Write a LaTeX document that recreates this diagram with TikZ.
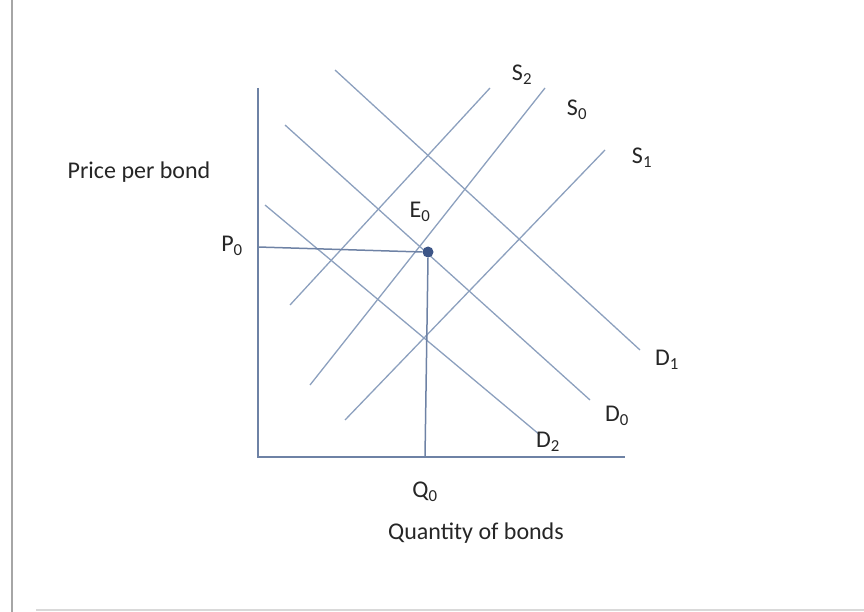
\documentclass[tikz,border=0pt]{standalone}
\usepackage{fontspec}
\setmainfont{Carlito}
\definecolor{lc}{RGB}{140,160,190}
\definecolor{ac}{RGB}{110,130,165}
\definecolor{pc}{RGB}{60,85,135}
\begin{document}
\begin{tikzpicture}[x=1pt,y=-1pt,
  ln/.style={draw=lc, line width=1.3pt},
  ax/.style={draw=ac, line width=1.5pt},
  lbl/.style={font=\fontsize{24}{26}\selectfont, text=black!85, inner sep=1pt}]
\useasboundingbox (0,0) rectangle (864,612);
\draw[gray!70, line width=1.2pt] (12,0) -- (12,612);
\draw[gray!30, line width=2pt] (36,610) -- (864,610);
% axes
\coordinate (yt) at (258,88);
\coordinate (o) at (258,457);
\coordinate (xr) at (625,457);
\draw[ax] (yt) -- (o) -- (xr);
% supply
\coordinate (s2a) at (290,305); \coordinate (s2b) at (490,88);
\coordinate (s0a) at (310,385); \coordinate (s0b) at (545,88);
\coordinate (s1a) at (345,420); \coordinate (s1b) at (605,150);
\draw[ln] (s2a) -- (s2b);
\draw[ln] (s0a) -- (s0b);
\draw[ln] (s1a) -- (s1b);
% demand
\coordinate (d1a) at (335,70); \coordinate (d1b) at (640,350);
\coordinate (d0a) at (285,125); \coordinate (d0b) at (590,400);
\coordinate (d2a) at (265,205); \coordinate (d2b) at (540,435);
\draw[ln] (d1a) -- (d1b);
\draw[ln] (d0a) -- (d0b);
\draw[ln] (d2a) -- (d2b);
% equilibrium
\node[circle, fill=pc, inner sep=0pt, minimum size=11pt] (e) at (428,252) {};
\coordinate (p) at (258,247);
\coordinate (q) at (425,457);
\draw[ax] (p) -- (e.west);
\draw[ax] (e.south) -- (q);
% labels
\node[lbl] (lS2) at (522,75) {S\textsubscript{2}};
\node[lbl] (lS0) at (577,110) {S\textsubscript{0}};
\node[lbl] (lS1) at (642,158) {S\textsubscript{1}};
\node[lbl] (lD1) at (667,360) {D\textsubscript{1}};
\node[lbl] (lD0) at (617,416) {D\textsubscript{0}};
\node[lbl] (lD2) at (548,442) {D\textsubscript{2}};
\node[lbl] (lE) at (420,212) {E\textsubscript{0}};
\node[lbl] (lP) at (232,246) {P\textsubscript{0}};
\node[lbl] (lQ) at (425,492) {Q\textsubscript{0}};
\node[lbl] (lqty) at (476,533) {Quantity of bonds};
\node[lbl] (lprice) at (139,172) {Price per bond};
\end{tikzpicture}
\end{document}
